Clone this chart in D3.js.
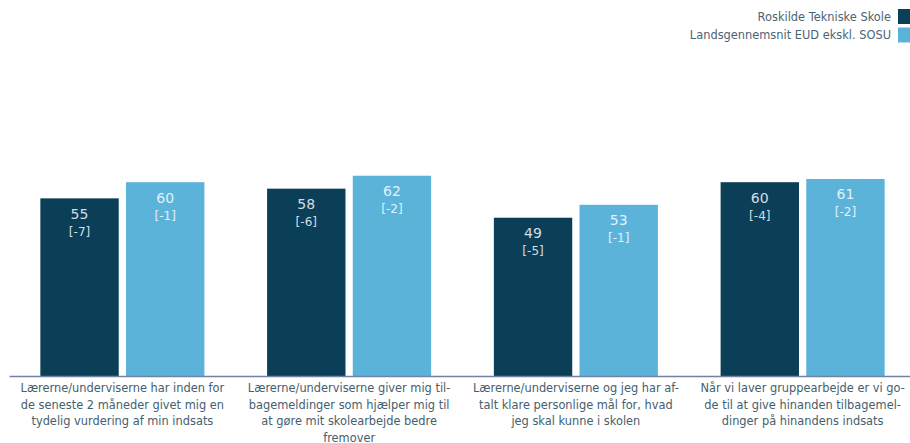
<!DOCTYPE html>
<html>
<head>
<meta charset="utf-8">
<script src="https://cdn.jsdelivr.net/npm/d3@7"></script>
<style>
    body { margin: 0; background: #fff; }
    #chart { width: 910px; height: 443px; }
    text { font-family: "DejaVu Sans", Verdana, sans-serif; }
</style>
</head>
<body>
<div id="chart"></div>
<script>
// data
let seriesNames = ["Roskilde Tekniske Skole", "Landsgennemsnit EUD ekskl. SOSU"];
let categoryLabels = [
    ["Lærerne/underviserne har inden for", "de seneste 2 måneder givet mig en", "tydelig vurdering af min indsats"],
    ["Lærerne/underviserne giver mig til-", "bagemeldinger som hjælper mig til", "at gøre mit skolearbejde bedre", "fremover"],
    ["Lærerne/underviserne og jeg har af-", "talt klare personlige mål for, hvad", "jeg skal kunne i skolen"],
    ["Når vi laver gruppearbejde er vi go-", "de til at give hinanden tilbagemel-", "dinger på hinandens indsats"]
];
let schoolValues = [55, 58, 49, 60];
let schoolChanges = ["[-7]", "[-6]", "[-5]", "[-4]"];
let nationalValues = [60, 62, 53, 61];
let nationalChanges = ["[-1]", "[-2]", "[-1]", "[-2]"];

let colors = ["#0b3f57", "#5cb3da"];
let labelColors = ["#d3dde3", "#e0f1f9"];

// build rows for drawing
let rows = [];
categoryLabels.forEach((c, i) => {
    rows.push({cat: i, series: 0, value: schoolValues[i], change: schoolChanges[i]});
    rows.push({cat: i, series: 1, value: nationalValues[i], change: nationalChanges[i]});
});

let width = 910, height = 443;
let margin = {left: 9, right: -6, top: 53, bottom: 67};

let svg = d3.select("#chart").append("svg")
    .attr("width", width)
    .attr("height", height);

let x0 = d3.scaleBand()
    .domain(d3.range(categoryLabels.length))
    .range([margin.left, width - margin.right])
    .paddingInner(0)
    .paddingOuter(0);

let inner = 164 / 226.7;
let x1 = d3.scaleBand()
    .domain([0, 1])
    .range([x0.bandwidth() * (1 - inner) / 2, x0.bandwidth() * (1 + inner) / 2])
    .paddingInner(0.085);

let y = d3.scaleLinear()
    .domain([0, 100])
    .range([height - margin.bottom, margin.top]);

// bars
let bars = svg.selectAll(".bar")
    .data(rows)
    .enter()
    .append("g")
    .attr("class", "bar")
    .attr("transform", d => `translate(${x0(d.cat) + x1(d.series)},0)`);

bars.append("rect")
    .attr("x", 0)
    .attr("y", d => y(d.value))
    .attr("width", x1.bandwidth())
    .attr("height", d => y(0) - y(d.value))
    .attr("fill", d => colors[d.series]);

bars.append("text")
    .attr("x", x1.bandwidth() / 2)
    .attr("y", d => y(d.value) + 20.5)
    .attr("text-anchor", "middle")
    .attr("font-size", "14px")
    .attr("fill", d => labelColors[d.series])
    .text(d => d.value);

bars.append("text")
    .attr("x", x1.bandwidth() / 2)
    .attr("y", d => y(d.value) + 37.5)
    .attr("text-anchor", "middle")
    .attr("font-size", "12px")
    .attr("fill", d => labelColors[d.series])
    .text(d => d.change);

// x axis line
let xAxis = d3.axisBottom(x0).tickSize(0).tickFormat("");
svg.append("g")
    .attr("class", "x-axis")
    .attr("transform", `translate(0,${y(0)})`)
    .call(xAxis)
    .select(".domain")
    .attr("stroke", "#7083a3")
    .attr("stroke-width", 1.3);

// category labels
let catText = svg.selectAll(".cat-label")
    .data(categoryLabels)
    .enter()
    .append("text")
    .attr("class", "cat-label")
    .attr("text-anchor", "middle")
    .attr("font-size", "11.4px")
    .attr("fill", "#44606e");

catText.selectAll("tspan")
    .data((d, i) => d.map(line => ({line, i})))
    .enter()
    .append("tspan")
    .attr("x", d => x0(d.i) + x0.bandwidth() / 2)
    .attr("y", (d, j) => y(0) + 16 + j * 16.5)
    .text(d => d.line);

// legend
let legend = svg.selectAll(".legend")
    .data(seriesNames)
    .enter()
    .append("g")
    .attr("class", "legend")
    .attr("transform", (d, i) => `translate(0,${9 + i * 18.5})`);

legend.append("rect")
    .attr("x", 898)
    .attr("y", 0)
    .attr("width", 15)
    .attr("height", 15)
    .attr("fill", (d, i) => colors[i]);

legend.append("text")
    .attr("x", 891)
    .attr("y", 11.5)
    .attr("text-anchor", "end")
    .attr("font-size", "11.4px")
    .attr("fill", "#4b6475")
    .text(d => d);
</script>
</body>
</html>
